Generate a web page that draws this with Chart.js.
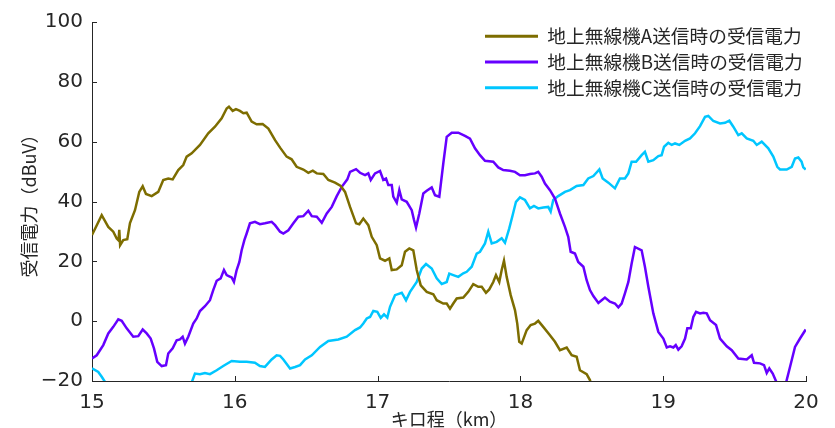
<!DOCTYPE html>
<html>
<head>
<meta charset="utf-8">
<script src="https://cdn.jsdelivr.net/npm/chart.js@4.4.1/dist/chart.umd.min.js"></script>
<style>
html,body{margin:0;padding:0;background:#fff;}
#wrap{width:835px;height:428px;}
</style>
</head>
<body>
<div id="wrap"><canvas id="c" width="835" height="428"></canvas></div>
<script>
// ---- data (km, dBuV) ----
const seriesNames = ['地上無線機A送信時の受信電力','地上無線機B送信時の受信電力','地上無線機C送信時の受信電力'];
const xTicks = [15,16,17,18,19,20];
const yTicks = [-20,0,20,40,60,80,100];

const distA = [15.000,15.068,15.114,15.149,15.173,15.186,15.191,15.197,15.219,15.247,15.266,15.301,15.331,15.355,15.378,15.418,15.464,15.499,15.534,15.565,15.604,15.639,15.663,15.698,15.756,15.814,15.861,15.908,15.943,15.959,15.985,16.008,16.036,16.060,16.083,16.118,16.153,16.195,16.235,16.282,16.317,16.363,16.398,16.433,16.480,16.515,16.546,16.574,16.620,16.655,16.702,16.742,16.772,16.807,16.849,16.872,16.900,16.935,16.959,16.994,17.017,17.052,17.082,17.099,17.134,17.169,17.192,17.222,17.250,17.274,17.302,17.344,17.390,17.414,17.460,17.484,17.507,17.530,17.554,17.600,17.635,17.670,17.705,17.729,17.759,17.782,17.810,17.829,17.852,17.869,17.885,17.904,17.932,17.962,17.978,17.992,18.009,18.044,18.072,18.102,18.125,18.160,18.207,18.242,18.277,18.324,18.359,18.394,18.417,18.464,18.487,18.515];
const valA  = [28.8,35.4,31.5,29.9,27.6,27.0,30.5,25.4,27.1,27.4,32.8,37.1,43.2,45.1,42.5,41.8,43.2,47.2,47.7,47.4,50.5,52.2,55.0,56.1,58.9,62.8,65.0,67.8,71.1,71.7,70.3,70.9,70.3,69.5,69.7,66.7,65.8,65.9,64.4,60.5,58.0,55.0,54.1,51.6,50.7,49.6,50.3,49.4,49.2,47.2,46.3,45.2,43.2,38.2,32.7,32.4,34.3,32.1,28.2,25.4,21.0,20.2,21.0,17.1,17.3,18.7,23.2,24.3,23.7,17.1,12.0,9.8,9.0,7.0,5.9,5.9,4.2,5.9,7.6,7.9,9.8,12.4,11.5,11.5,9.5,10.6,13.1,15.4,13.1,17.1,20.2,14.8,8.7,3.7,-0.8,-6.9,-7.5,-3.0,-1.3,-0.8,0.1,-1.9,-4.7,-6.9,-9.7,-8.8,-11.4,-11.9,-16.4,-17.7,-19.7,-24.0];

const distB = [15.000,15.033,15.079,15.114,15.149,15.184,15.208,15.243,15.289,15.324,15.355,15.383,15.411,15.434,15.457,15.488,15.518,15.534,15.565,15.593,15.616,15.635,15.651,15.674,15.709,15.733,15.756,15.791,15.826,15.849,15.873,15.901,15.924,15.943,15.961,15.978,15.994,16.013,16.032,16.048,16.067,16.083,16.106,16.141,16.176,16.211,16.258,16.282,16.317,16.340,16.375,16.410,16.445,16.480,16.515,16.539,16.574,16.609,16.644,16.679,16.714,16.749,16.788,16.807,16.849,16.877,16.912,16.935,16.952,16.982,17.017,17.040,17.059,17.075,17.099,17.110,17.134,17.152,17.169,17.204,17.239,17.255,17.269,17.292,17.320,17.344,17.379,17.402,17.432,17.460,17.484,17.519,17.565,17.612,17.647,17.682,17.717,17.752,17.810,17.845,17.880,17.927,17.962,17.997,18.032,18.067,18.102,18.125,18.149,18.172,18.207,18.242,18.277,18.312,18.335,18.352,18.382,18.405,18.441,18.464,18.487,18.511,18.546,18.569,18.592,18.627,18.662,18.686,18.709,18.732,18.756,18.779,18.802,18.849,18.872,18.896,18.931,18.966,19.001,19.025,19.048,19.071,19.088,19.106,19.129,19.153,19.169,19.193,19.211,19.230,19.258,19.281,19.305,19.328,19.370,19.398,19.445,19.480,19.526,19.585,19.620,19.636,19.678,19.706,19.725,19.743,19.767,19.795,19.825,19.860,19.888,19.923,19.958,19.998];
const valB  = [-12.5,-11.4,-8.0,-4.1,-1.9,0.6,0.1,-2.4,-5.2,-5.0,-2.8,-4.1,-5.8,-9.1,-13.6,-15.0,-14.7,-10.8,-9.1,-6.4,-6.1,-5.2,-7.5,-5.2,-0.8,0.9,3.4,5.0,7.0,10.4,13.5,14.3,17.1,15.4,15.0,14.6,13.1,17.1,19.8,23.7,27.1,29.3,32.7,33.2,32.4,32.7,33.2,32.1,29.9,29.3,30.4,32.7,34.9,35.1,36.9,35.1,34.9,32.9,36.0,38.2,41.8,44.9,47.4,49.9,50.8,49.6,48.8,49.4,47.2,49.4,50.2,47.2,47.7,45.5,45.5,41.6,39.6,43.8,40.7,39.9,37.1,33.8,31.3,36.0,42.7,43.6,44.7,42.1,41.6,52.7,61.6,63.0,63.0,61.9,61.0,57.8,55.5,53.6,53.3,51.4,50.5,50.3,49.9,48.8,48.8,49.2,49.4,49.9,48.3,46.0,43.8,41.0,36.0,31.5,28.2,23.2,22.6,19.8,18.2,13.7,10.4,8.4,6.1,7.0,7.9,6.5,5.9,4.6,5.9,9.3,13.1,19.3,24.8,23.7,18.2,11.5,2.6,-3.6,-5.8,-8.8,-8.4,-8.8,-8.0,-9.5,-8.4,-5.8,-2.4,-2.4,1.4,3.1,2.6,2.8,2.6,0.3,-1.3,-5.8,-8.4,-9.7,-12.5,-12.8,-11.4,-13.9,-14.1,-14.7,-17.3,-15.8,-17.5,-20.6,-25.0,-20.6,-15.3,-8.6,-5.8,-2.8];

const distC = [15.000,15.044,15.068,15.098,15.161,15.406,15.651,15.698,15.721,15.756,15.791,15.826,15.873,15.919,15.978,16.036,16.083,16.141,16.176,16.211,16.258,16.293,16.317,16.340,16.387,16.422,16.457,16.492,16.539,16.597,16.655,16.725,16.784,16.842,16.877,16.900,16.924,16.947,16.970,16.998,17.022,17.045,17.068,17.087,17.122,17.169,17.199,17.227,17.274,17.309,17.339,17.379,17.414,17.449,17.484,17.502,17.530,17.565,17.600,17.624,17.659,17.694,17.717,17.752,17.775,17.799,17.834,17.869,17.892,17.922,17.946,17.969,17.997,18.032,18.067,18.095,18.125,18.160,18.195,18.212,18.230,18.265,18.312,18.347,18.394,18.441,18.475,18.511,18.553,18.576,18.616,18.662,18.697,18.732,18.756,18.779,18.810,18.849,18.872,18.896,18.931,18.966,18.989,19.006,19.036,19.060,19.083,19.113,19.153,19.188,19.223,19.258,19.293,19.316,19.351,19.398,19.433,19.463,19.491,19.526,19.550,19.585,19.631,19.655,19.690,19.736,19.771,19.799,19.818,19.865,19.900,19.923,19.946,19.969,19.981,19.998];
const valC  = [-15.8,-17.0,-18.6,-20.8,-24.0,-26.0,-24.0,-20.5,-17.5,-17.7,-17.3,-17.7,-16.4,-15.0,-13.3,-13.6,-13.6,-13.9,-15.0,-15.3,-12.8,-11.4,-11.6,-12.8,-15.8,-15.3,-14.7,-12.8,-11.4,-8.6,-6.6,-6.1,-5.2,-3.0,-2.1,-0.8,0.9,1.4,3.4,3.1,1.1,2.3,1.2,4.8,8.7,9.5,7.0,9.8,13.1,17.6,19.1,17.6,14.3,12.4,13.1,15.9,15.4,14.8,16.0,16.5,18.2,22.6,23.2,26.0,29.9,26.0,26.5,27.7,26.2,31.0,35.5,39.9,41.4,40.5,37.7,38.5,37.7,38.0,38.2,36.6,40.5,41.8,43.2,43.8,45.2,45.5,47.7,48.5,50.7,47.7,46.3,44.4,47.7,47.7,49.4,53.3,53.3,55.5,56.6,53.3,53.8,55.2,55.5,58.3,59.6,58.9,59.4,58.9,60.3,61.1,62.8,65.2,68.3,68.6,66.9,66.1,66.3,67.0,65.0,62.2,62.8,61.1,60.3,58.9,60.0,57.8,55.0,51.6,50.7,50.7,51.6,54.4,54.7,53.3,51.4,50.7];

const colors = ['#7d6d00','#6600ff','#00c6ff'];
const axisColor = '#262626';
const toPts = (xs, ys) => xs.map((x, i) => ({x: x, y: ys[i]}));

const tickMarks = {
  id: 'tickMarks',
  afterDraw(chart) {
    const ctx = chart.ctx, a = chart.chartArea;
    const xs = chart.scales.x, ys = chart.scales.y;
    const len = 5;
    ctx.save();
    ctx.strokeStyle = axisColor;
    ctx.lineWidth = 1;
    ctx.beginPath();
    xTicks.forEach(v => {
      const px = Math.round(xs.getPixelForValue(v)) + 0.5;
      ctx.moveTo(px, a.bottom); ctx.lineTo(px, a.bottom - len);
    });
    yTicks.forEach(v => {
      const py = Math.round(ys.getPixelForValue(v)) + 0.5;
      ctx.moveTo(a.left, py); ctx.lineTo(a.left + len, py);
    });
    ctx.stroke();
    ctx.restore();
  }
};

const legendPlace = {
  id: 'legendPlace',
  afterLayout(chart) {
    const lg = chart.legend;
    if (!lg) return;
    const w = lg.width, h = lg.height;
    lg.left = 478; lg.right = lg.left + w;
    lg.top = 20; lg.bottom = lg.top + h;
  }
};

const datasets = [toPts(distA, valA), toPts(distB, valB), toPts(distC, valC)].map((d, i) => ({
  label: seriesNames[i],
  data: d,
  borderColor: colors[i],
  backgroundColor: colors[i],
  borderWidth: 2.5,
  pointRadius: 0,
  tension: 0,
  fill: false
}));

new Chart(document.getElementById('c'), {
  type: 'line',
  data: { datasets },
  plugins: [tickMarks, legendPlace],
  options: {
    responsive: false,
    animation: false,
    devicePixelRatio: 1,
    layout: { padding: { left: 0, top: 22, right: 29, bottom: 0 } },
    plugins: {
      tooltip: { enabled: false },
      legend: {
        position: 'chartArea',
        align: 'start',
        labels: {
          boxWidth: 53,
          boxHeight: 3,
          padding: 7,
          color: axisColor,
          font: { family: '"Noto Sans CJK JP", sans-serif', size: 18.7 },
          generateLabels(chart) {
            const items = Chart.defaults.plugins.legend.labels.generateLabels(chart);
            items.forEach((it, i) => { it.lineWidth = 0; it.fillStyle = colors[i]; it.strokeStyle = colors[i]; });
            return items;
          }
        }
      }
    },
    scales: {
      x: {
        type: 'linear',
        min: 15, max: 20,
        afterFit(s) { s.height = 47; },
        afterBuildTicks(s) { s.ticks = xTicks.map(v => ({value: v})); },
        grid: { display: false, drawTicks: false },
        border: { display: true, color: axisColor, width: 1 },
        ticks: {
          autoSkip: false, maxRotation: 0, padding: 10,
          color: axisColor,
          font: { family: '"DejaVu Sans", sans-serif', size: 20 },
          callback: v => String(v)
        },
        title: {
          display: true, text: 'キロ程（km）', color: axisColor,
          font: { family: '"Noto Sans CJK JP", sans-serif', size: 18, lineHeight: 1 },
          padding: { top: 0, bottom: 0 }
        }
      },
      y: {
        type: 'linear',
        min: -20, max: 100,
        afterFit(s) { s.width = 92; },
        afterBuildTicks(s) { s.ticks = yTicks.map(v => ({value: v})); },
        grid: { display: false, drawTicks: false },
        border: { display: true, color: axisColor, width: 1 },
        ticks: {
          padding: 9,
          color: axisColor,
          font: { family: '"DejaVu Sans", sans-serif', size: 20 },
          callback: v => v < 0 ? '\u2212' + Math.abs(v) : String(v)
        },
        title: {
          display: true, text: '受信電力（dBuV）', color: axisColor,
          font: { family: '"Noto Sans CJK JP", sans-serif', size: 18, lineHeight: 1 },
          padding: { top: 20, bottom: 0 }
        }
      }
    }
  }
});
</script>
</body>
</html>
